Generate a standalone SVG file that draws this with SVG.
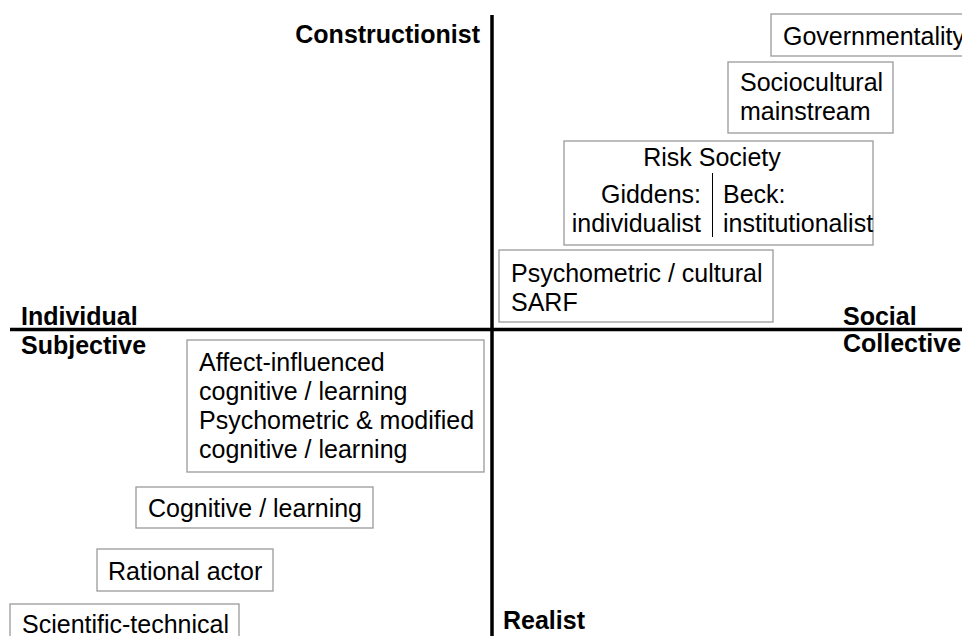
<svg xmlns="http://www.w3.org/2000/svg" width="962" height="636" viewBox="0 0 962 636">
  <style>
    text { font-family: "Liberation Sans", Arial, sans-serif; font-size: 25px; fill: #000; }
    .axis-label { font-weight: bold; }
    .box { fill: #fff; stroke: #9a9a9a; stroke-width: 1.3; }
    .axis { stroke: #000; stroke-width: 3.5; fill: none; }
    .divider { stroke: #000; stroke-width: 1; }
  </style>
  <rect width="962" height="636" fill="#fff"/>

  <!-- quadrant axes -->
  <g id="axes">
    <line class="axis" x1="492" y1="15" x2="492" y2="636"/>
    <line class="axis" x1="10" y1="329.5" x2="962" y2="329.5"/>
  </g>

  <!-- axis labels -->
  <g id="axis-labels">
    <text class="axis-label" x="480" y="43" text-anchor="end">Constructionist</text>
    <text class="axis-label" x="503" y="629">Realist</text>
    <text class="axis-label" x="21" y="325">Individual</text>
    <text class="axis-label" x="21" y="354">Subjective</text>
    <text class="axis-label" x="843" y="325">Social</text>
    <text class="axis-label" x="843" y="352">Collective</text>
  </g>

  <g id="governmentality">
    <rect class="box" x="771" y="14" width="200" height="42"/>
    <text x="783" y="45">Governmentality</text>
  </g>

  <g id="sociocultural">
    <rect class="box" x="728" y="62" width="165" height="71"/>
    <text x="740" y="91">Sociocultural</text>
    <text x="740" y="120">mainstream</text>
  </g>

  <g id="risk-society">
    <rect class="box" x="564" y="141" width="309" height="104"/>
    <text x="712" y="166" text-anchor="middle">Risk Society</text>
    <line class="divider" x1="712.5" y1="173" x2="712.5" y2="237"/>
    <text x="701" y="203" text-anchor="end">Giddens:</text>
    <text x="701" y="232" text-anchor="end">individualist</text>
    <text x="723" y="203">Beck:</text>
    <text x="723" y="232">institutionalist</text>
  </g>

  <g id="psychometric-cultural">
    <rect class="box" x="499" y="250" width="274" height="72"/>
    <text x="511" y="282">Psychometric / cultural</text>
    <text x="511" y="311">SARF</text>
  </g>

  <g id="affect-influenced">
    <rect class="box" x="187" y="340" width="297" height="132"/>
    <text x="199" y="371">Affect-influenced</text>
    <text x="199" y="400">cognitive / learning</text>
    <text x="199" y="429">Psychometric &amp; modified</text>
    <text x="199" y="458">cognitive / learning</text>
  </g>

  <g id="cognitive-learning">
    <rect class="box" x="136" y="487" width="237" height="41"/>
    <text x="148" y="517">Cognitive / learning</text>
  </g>

  <g id="rational-actor">
    <rect class="box" x="97" y="549" width="176" height="42"/>
    <text x="108" y="580">Rational actor</text>
  </g>

  <g id="scientific-technical">
    <rect class="box" x="10" y="604" width="229" height="50"/>
    <text x="22" y="633">Scientific-technical</text>
  </g>

  <!-- no connectors between nodes -->
  <g id="connectors"/>
</svg>
